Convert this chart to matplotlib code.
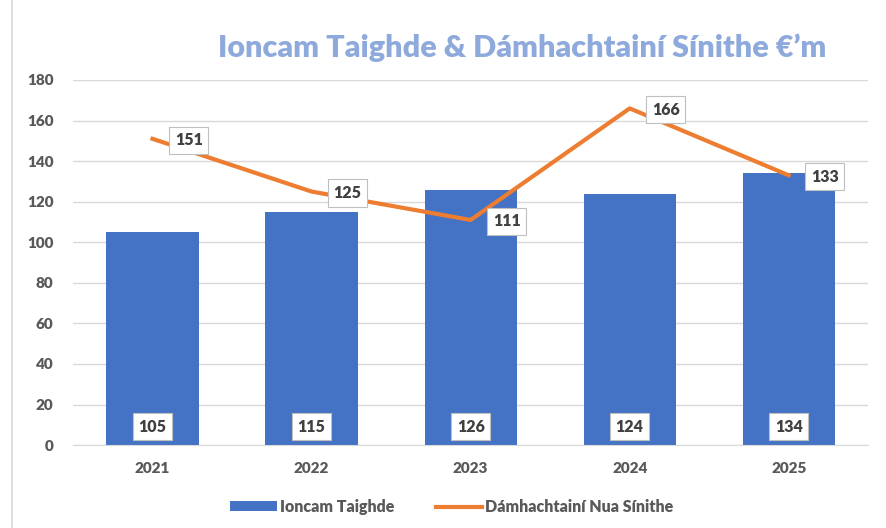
import matplotlib
matplotlib.use("Agg")
import matplotlib.pyplot as plt
from matplotlib.patches import Rectangle

years = ["2021", "2022", "2023", "2024", "2025"]
ioncam = [105, 115, 126, 124, 134]
damh = [151, 125, 111, 166, 133]

plt.rcParams['font.family'] = ['Lato', 'DejaVu Sans']

fig = plt.figure(figsize=(8.86, 5.28), dpi=100)
ax = fig.add_axes([0.0824, 0.157, 0.8976, 0.6915])

x = list(range(len(years)))
bars = ax.bar(x, ioncam, width=0.58, color="#4472C4", label="Ioncam Taighde", zorder=2)
line, = ax.plot(x, damh, color="#ED7D31", lw=3, label="Dámhachtainí Nua Sínithe", zorder=3)

box = dict(boxstyle="square,pad=0.35", fc="white", ec="#BFBFBF", lw=0.8)
for i, v in enumerate(ioncam):
    ax.text(i, 9, str(v), ha="center", va="center", fontsize=11.5, fontweight="heavy",
            color="#404040", bbox=box, zorder=4)
for i, v in enumerate(damh):
    ax.annotate(str(v), (i, v), xytext=(26, -1), textcoords="offset points",
                ha="center", va="center", fontsize=11.5, fontweight="heavy",
                color="#404040", bbox=box, zorder=5)

ax.set_xlim(-0.5, 4.5)
ax.set_ylim(0, 180)
ax.set_yticks(range(0, 181, 20))
ax.set_xticks(x)
ax.set_xticklabels(years)
ax.grid(axis="y", color="#D9D9D9", lw=1, zorder=0)
for s in ["top", "right", "left"]:
    ax.spines[s].set_visible(False)
ax.spines["bottom"].set_color("#D9D9D9")
ax.tick_params(length=0, labelsize=11, labelcolor="#595959", pad=12)
ax.tick_params(axis="y", pad=14)
for lab in ax.get_xticklabels() + ax.get_yticklabels():
    lab.set_fontweight("heavy")

fig.text(0.589, 0.91, "Ioncam Taighde & Dámhachtainí Sínithe €’m", ha="center", va="center",
         fontsize=22, fontweight="heavy", color="#8EA9DB")

fig.legend([bars, line], ["Ioncam Taighde", "Dámhachtainí Nua Sínithe"],
           loc="center", bbox_to_anchor=(0.51, 0.04), ncol=2, frameon=False,
           prop={"size": 11.5, "weight": "heavy"}, labelcolor="#595959",
           handlelength=2.9, handleheight=0.6, columnspacing=2.6, handletextpad=0.2)

fig.patches.append(Rectangle((12 / 886, -0.01), 1.0, 1.02, transform=fig.transFigure,
                             fill=False, ec="#D9D9D9", lw=1.2))

fig.savefig("out.png", dpi=100)
